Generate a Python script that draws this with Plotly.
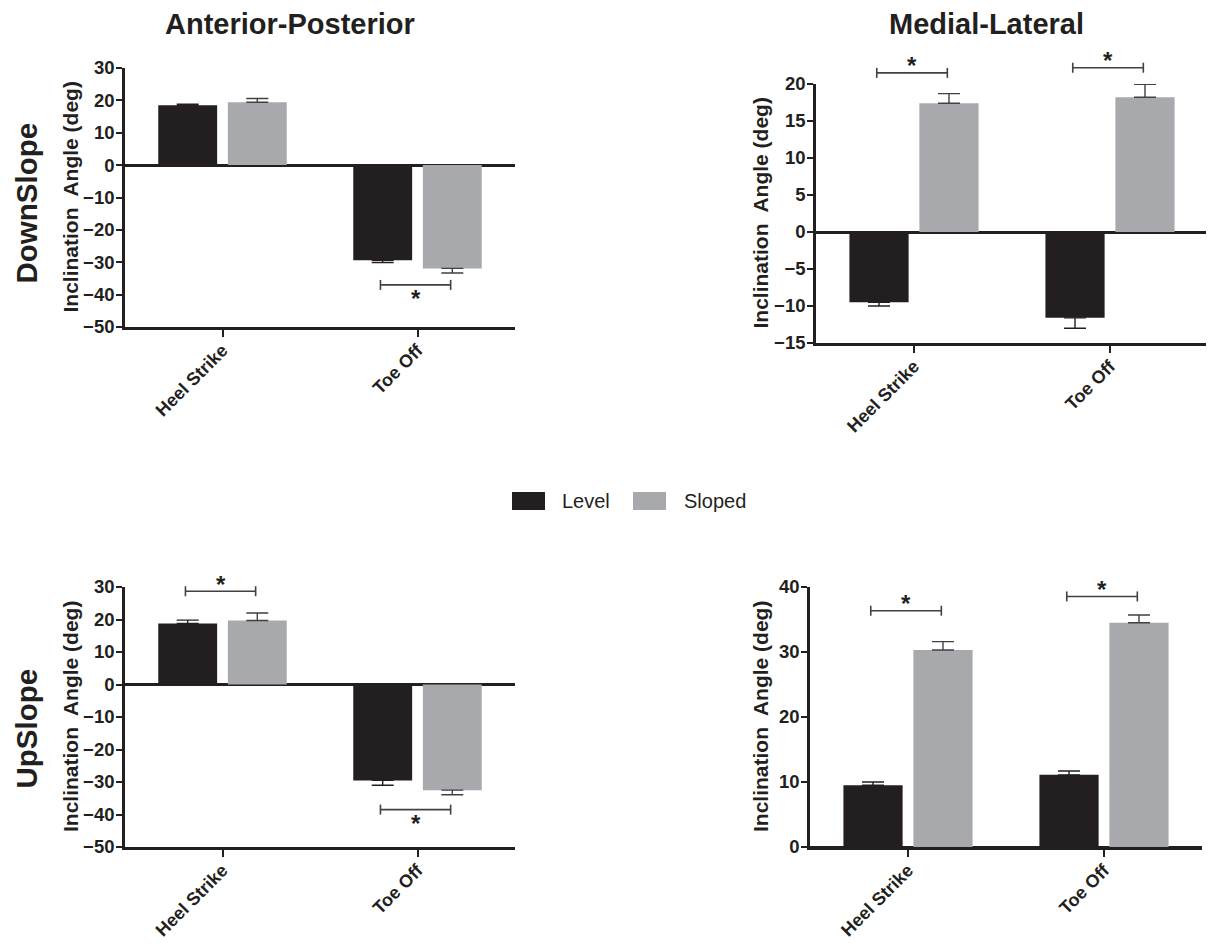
import plotly.graph_objects as go

# ---------------- data ----------------
categories = ["Heel Strike", "Toe Off"]
series_names = ["Level", "Sloped"]

ap_down_level = [18.5, -29.4]
ap_down_level_err = [0.3, 0.7]
ap_down_sloped = [19.4, -31.9]
ap_down_sloped_err = [1.2, 1.4]

ml_down_level = [-9.5, -11.6]
ml_down_level_err = [0.5, 1.4]
ml_down_sloped = [17.4, 18.2]
ml_down_sloped_err = [1.3, 1.75]

ap_up_level = [18.8, -29.5]
ap_up_level_err = [1.0, 1.5]
ap_up_sloped = [19.7, -32.5]
ap_up_sloped_err = [2.3, 1.4]

ml_up_level = [9.5, 11.1]
ml_up_level_err = [0.5, 0.6]
ml_up_sloped = [30.3, 34.5]
ml_up_sloped_err = [1.3, 1.2]

# significance brackets: (category index, bracket level)
sig_ap_down = [(1, -37.0)]
sig_ml_down = [(0, 21.5), (1, 22.2)]
sig_ap_up = [(0, 28.7), (1, -38.5)]
sig_ml_up = [(0, 36.35), (1, 38.55)]

col_titles = ["Anterior-Posterior", "Medial-Lateral"]
row_titles = ["DownSlope", "UpSlope"]
y_title = "Inclination  Angle (deg)"

# ---------------- style ----------------
W, H = 1214, 946
OFF = 8  # page body margin in the browser
DARK = "#231f20"
GREY = "#a7a9ac"
ERR_DARK = "#231f20"
ERR_GREY = "#414042"
FONT = "Liberation Sans, Arial, Helvetica, sans-serif"


def px(x):
    return (x - OFF) / W


def py(y):
    return 1 - (y - OFF) / H


panels = [
    dict(level=ap_down_level, level_err=ap_down_level_err, sloped=ap_down_sloped,
         sloped_err=ap_down_sloped_err, sig=sig_ap_down,
         xd=(125, 515), yd=(68, 327), yr=(-50, 30), dt=10, tx=70),
    dict(level=ml_down_level, level_err=ml_down_level_err, sloped=ml_down_sloped,
         sloped_err=ml_down_sloped_err, sig=sig_ml_down,
         xd=(816, 1208), yd=(84, 343), yr=(-15, 20), dt=5, tx=760),
    dict(level=ap_up_level, level_err=ap_up_level_err, sloped=ap_up_sloped,
         sloped_err=ap_up_sloped_err, sig=sig_ap_up,
         xd=(125, 515), yd=(587, 847), yr=(-50, 30), dt=10, tx=70),
    dict(level=ml_up_level, level_err=ml_up_level_err, sloped=ml_up_sloped,
         sloped_err=ml_up_sloped_err, sig=sig_ml_up,
         xd=(810, 1202), yd=(587, 847), yr=(0, 40), dt=10, tx=760),
]

fig = go.Figure()
shapes = []
annotations = []
layout_axes = {}


def err_arrays(vals, errs):
    plus = [e if v >= 0 else 0 for v, e in zip(vals, errs)]
    minus = [e if v < 0 else 0 for v, e in zip(vals, errs)]
    return plus, minus


for i, p in enumerate(panels, start=1):
    xa = "x" if i == 1 else f"x{i}"
    ya = "y" if i == 1 else f"y{i}"
    for name, vals, errs, color, ecol in [
        (series_names[0], p["level"], p["level_err"], DARK, ERR_DARK),
        (series_names[1], p["sloped"], p["sloped_err"], GREY, ERR_GREY),
    ]:
        plus, minus = err_arrays(vals, errs)
        fig.add_trace(go.Bar(
            x=categories, y=vals, name=name, xaxis=xa, yaxis=ya,
            marker=dict(color=color, line=dict(width=0)),
            error_y=dict(type="data", symmetric=False, array=plus, arrayminus=minus,
                         color=ecol, thickness=1.4, width=11),
            showlegend=False,
        ))

    axis_common = dict(showline=True, linecolor=DARK, linewidth=2.6, ticks="outside",
                       tickcolor=DARK, tickwidth=2.4, showgrid=False, automargin=False)
    xdom = [px(p["xd"][0]), px(p["xd"][1])]
    ydom = [py(p["yd"][1]), py(p["yd"][0])]
    lo, hi = p["yr"]
    layout_axes["xaxis" if i == 1 else f"xaxis{i}"] = dict(
        axis_common, domain=xdom, anchor=ya,
        tickfont=dict(family=FONT, size=18, color=DARK, weight="bold"),
        range=[-0.5, 1.5], ticklen=7, tickangle=-45, ticklabelstandoff=-4,
        zeroline=False, fixedrange=True)
    layout_axes["yaxis" if i == 1 else f"yaxis{i}"] = dict(
        axis_common, domain=ydom, anchor=xa,
        tickfont=dict(family=FONT, size=18.5, color=DARK, weight="bold"),
        range=[lo, hi], dtick=p["dt"], ticklen=6, ticklabelstandoff=-2, zeroline=True,
        zerolinecolor=DARK, zerolinewidth=2.6, fixedrange=True)

    # y axis title
    annotations.append(dict(
        x=px(p["tx"]), y=py((p["yd"][0] + p["yd"][1]) / 2), xref="paper", yref="paper",
        text=y_title, textangle=-90, showarrow=False, xanchor="center", yanchor="middle",
        font=dict(family=FONT, size=21, color=DARK, weight="bold")))

    # significance brackets, mapped into paper space (they may sit above the axis range)
    def to_px(c):
        return xdom[0] + (c + 0.5) / 2 * (xdom[1] - xdom[0])

    def to_py(v):
        return ydom[0] + (v - lo) / (hi - lo) * (ydom[1] - ydom[0])

    for (ci, yb) in p["sig"]:
        x0, x1 = to_px(ci - 0.19), to_px(ci + 0.17)
        yp = to_py(yb)
        shapes.append(dict(type="line", xref="paper", yref="paper", x0=x0, x1=x1, y0=yp, y1=yp,
                           line=dict(color=ERR_GREY, width=1.6)))
        for xe in (x0, x1):
            shapes.append(dict(type="line", xref="paper", yref="paper", x0=xe, x1=xe,
                               ysizemode="pixel", yanchor=yp, y0=-5, y1=5,
                               line=dict(color=ERR_GREY, width=1.6)))
        above = yb > 0
        annotations.append(dict(
            x=(x0 + x1) / 2, y=yp, xref="paper", yref="paper", text="*", showarrow=False,
            xanchor="center", yanchor="middle", yshift=(7 if above else -14),
            font=dict(family=FONT, size=24, color=DARK, weight="bold")))

# column titles
for t, xc in zip(col_titles, [290, 986]):
    annotations.append(dict(x=px(xc), y=py(24), xref="paper", yref="paper", text=t,
                            showarrow=False, xanchor="center", yanchor="middle",
                            font=dict(family=FONT, size=29, color=DARK, weight="bold")))

# row titles (box anchored at its left edge)
for t, (xl, yc) in zip(row_titles, [(8, 203), (8, 729)]):
    annotations.append(dict(x=px(xl), y=py(yc), xref="paper", yref="paper", text=t,
                            textangle=-90, showarrow=False, xanchor="left", yanchor="middle",
                            borderpad=0,
                            font=dict(family=FONT, size=29.5, color=DARK, weight="bold")))

# legend (drawn manually for large swatches)
legend_items = [(series_names[0], DARK, 512, 560), (series_names[1], GREY, 633, 682)]
for name, color, bx, tx in legend_items:
    shapes.append(dict(type="rect", xref="paper", yref="paper",
                       x0=px(bx), x1=px(bx + 33), y0=py(510), y1=py(492),
                       fillcolor=color, line=dict(width=0)))
    annotations.append(dict(x=px(tx), y=py(501), xref="paper", yref="paper", text=name,
                            showarrow=False, xanchor="left", yanchor="middle",
                            font=dict(family=FONT, size=20, color=DARK)))

fig.update_layout(
    width=W, height=H, margin=dict(l=0, r=0, t=0, b=0, pad=0, autoexpand=False),
    paper_bgcolor="white", plot_bgcolor="white",
    barmode="group", bargap=0.286, bargroupgap=0.154,
    shapes=shapes, annotations=annotations, showlegend=False,
    font=dict(family=FONT, color=DARK),
    **layout_axes,
)

fig.write_html("out.html")
